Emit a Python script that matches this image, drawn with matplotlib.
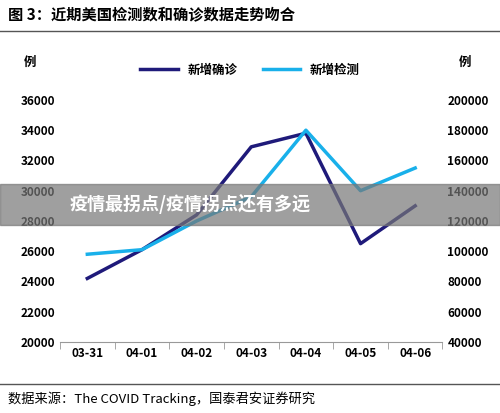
import matplotlib
matplotlib.use("Agg")
import matplotlib.pyplot as plt
from matplotlib.patches import Rectangle
from matplotlib.lines import Line2D

plt.rcParams['font.family'] = ['Noto Sans CJK SC', 'DejaVu Sans']

dates = ["03-31", "04-01", "04-02", "04-03", "04-04", "04-05", "04-06"]
confirmed = [24200, 26100, 28400, 32900, 33800, 26500, 29000]
tested = [98000, 101000, 120000, 136000, 180000, 140000, 155000]

navy = "#1f1a7a"
light = "#19b0ea"

fig = plt.figure(figsize=(5.0, 4.13), dpi=100)
ax = fig.add_axes([0.12, 0.172, 0.765, 0.586])
ax2 = ax.twinx()
x = range(len(dates))
ax.plot(x, confirmed, color=navy, lw=2.5)
ax2.plot(x, tested, color=light, lw=2.5)
ax.set_ylim(20000, 36000)
ax.set_yticks(range(20000, 36001, 2000))
ax2.set_ylim(40000, 200000)
ax2.set_yticks(range(40000, 200001, 20000))
ax.set_xlim(-0.5, 6.5)
ax.set_xticks(list(x))
ax.set_xticklabels(dates)
for a in (ax, ax2):
    a.tick_params(labelsize=8.5, length=0)
    for lab in a.get_yticklabels() + a.get_xticklabels():
        lab.set_fontweight('bold')
    for s in a.spines.values():
        s.set_visible(False)
ax.spines['bottom'].set_visible(True)
ax.spines['bottom'].set_color('#999999')
ax.set_xticks([i + 0.5 for i in range(-1, 7)], minor=True)
ax.tick_params(axis='x', which='minor', length=5, color='#999999')
ax.tick_params(axis='x', which='major', length=0)

fig.text(0.015, 0.965, "图 3：近期美国检测数和确诊数据走势吻合", fontsize=11, fontweight='bold', va='center')
fig.add_artist(Line2D([0.0, 1.0], [0.925, 0.925], color='#555555', lw=1))
fig.text(0.06, 0.84, "例", fontsize=9, fontweight='bold', ha='center')
fig.text(0.93, 0.84, "例", fontsize=9, fontweight='bold', ha='center')
handles = [Line2D([], [], color=navy, lw=2.5), Line2D([], [], color=light, lw=2.5)]
fig.legend(handles, ["新增确诊", "新增检测"], loc='center', bbox_to_anchor=(0.5, 0.83),
           ncol=2, frameon=False, prop={'size': 9, 'weight': 'bold'}, handlelength=3, columnspacing=2)
fig.add_artist(Line2D([0.0, 1.0], [0.07, 0.07], color='#555555', lw=1))
fig.text(0.015, 0.035, "数据来源：The COVID Tracking，国泰君安证券研究", fontsize=9.5, va='center')
fig.add_artist(Rectangle((0, 0.455), 1, 0.1, transform=fig.transFigure, color='#777777', alpha=0.7, zorder=10))
fig.text(0.14, 0.505, "疫情最拐点/疫情拐点还有多远", fontsize=13, fontweight='bold', color='white',
         va='center', zorder=11)
fig.savefig("out.png", dpi=100)
